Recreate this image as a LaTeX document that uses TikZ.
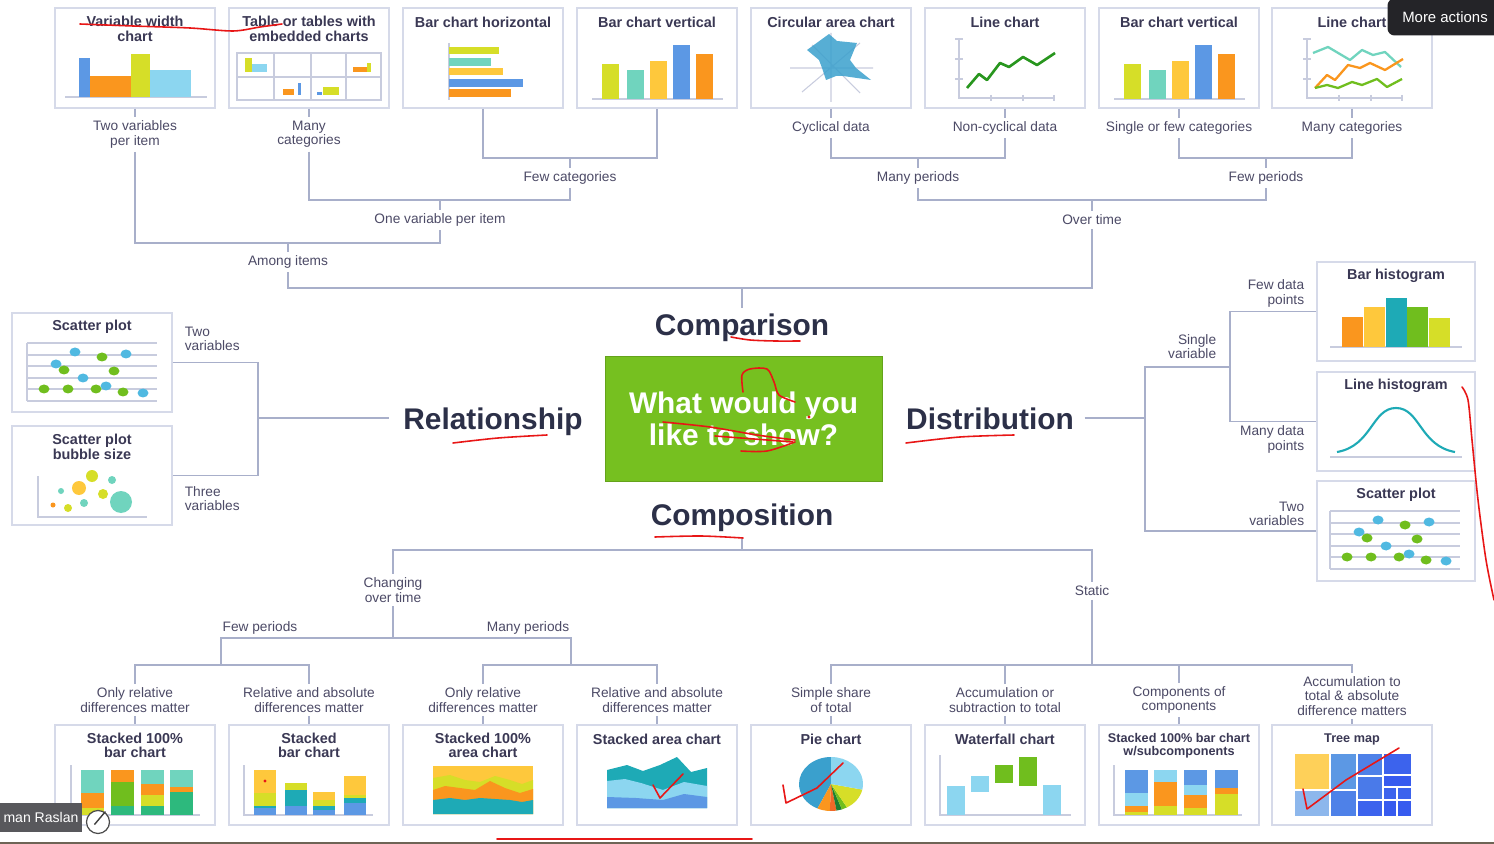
\documentclass[tikz,border=0pt]{standalone}
\usepackage{fontspec}
\setmainfont{Liberation Sans}
\usepackage{tikz}
\usepackage{xcolor}
\usetikzlibrary{positioning}
\definecolor{chlink}{RGB}{168,175,202}
\definecolor{chframe}{RGB}{214,218,233}
\definecolor{chaxis}{RGB}{200,204,222}
\definecolor{chtitle}{RGB}{58,56,84}
\definecolor{chlabel}{RGB}{76,74,102}
\definecolor{chtopic}{RGB}{44,48,72}
\definecolor{chcentre}{RGB}{118,192,32}
\definecolor{cblue}{RGB}{92,152,228}
\definecolor{corange}{RGB}{250,150,30}
\definecolor{cygreen}{RGB}{214,222,40}
\definecolor{cltblue}{RGB}{140,214,240}
\definecolor{cteal}{RGB}{112,212,190}
\definecolor{cyellow}{RGB}{254,200,60}
\definecolor{cgreen}{RGB}{112,190,30}
\definecolor{cdteal}{RGB}{30,170,182}
\definecolor{cmint}{RGB}{45,185,125}
\definecolor{cline}{RGB}{40,150,30}
\definecolor{cdot}{RGB}{80,185,225}
\definecolor{cpie}{RGB}{58,160,205}
\definecolor{cred}{RGB}{240,105,40}
\definecolor{cdgreen}{RGB}{30,125,50}
\definecolor{inkred}{RGB}{232,22,22}
\definecolor{uidark}{RGB}{36,36,40}

\begin{document}
\begin{tikzpicture}[
    x=0.02cm, y=-0.02cm,
    chartbox/.style={draw=chframe, fill=white, line width=0.8pt, minimum width=3.2cm, minimum height=2cm, inner sep=0pt},
    boxtitle/.style={font=\bfseries\fontsize{8.2}{8.2}\selectfont, text=chtitle, align=center, inner sep=0pt},
    branch/.style={font=\fontsize{7.8}{8.1}\selectfont, text=chlabel, align=center, inner sep=2pt},
    topic/.style={font=\bfseries\fontsize{17}{18}\selectfont, text=chtopic, inner sep=3pt, text height=12.5pt, text depth=3.5pt},
    tree/.style={draw=chlink, line width=1.1pt},
    chartaxis/.style={draw=chaxis, line width=0.6pt},
    ink/.style={draw=inkred, line width=0.9pt, line cap=round, line join=round},
]
  \useasboundingbox (0,0) rectangle (1494,844);
  \fill[white] (0,0) rectangle (1494,844);

  % chart boxes
  \node[chartbox] (t1) at (135,58) {};
  \node[chartbox] (t2) at (309,58) {};
  \node[chartbox] (t3) at (483,58) {};
  \node[chartbox] (t4) at (657,58) {};
  \node[chartbox] (t5) at (831,58) {};
  \node[chartbox] (t6) at (1005,58) {};
  \node[chartbox] (t7) at (1179,58) {};
  \node[chartbox] (t8) at (1352,58) {};
  \node[chartbox] (b1) at (135,775) {};
  \node[chartbox] (b2) at (309,775) {};
  \node[chartbox] (b3) at (483,775) {};
  \node[chartbox] (b4) at (657,775) {};
  \node[chartbox] (b5) at (831,775) {};
  \node[chartbox] (b6) at (1005,775) {};
  \node[chartbox] (b7) at (1179,775) {};
  \node[chartbox] (b8) at (1352,775) {};
  \node[chartbox, minimum height=1.98cm] (s1) at (92,362.5) {};
  \node[chartbox, minimum height=1.98cm] (s2) at (92,475.5) {};
  \node[chartbox, minimum width=3.16cm, minimum height=1.98cm] (h1) at (1396,311.5) {};
  \node[chartbox, minimum width=3.16cm, minimum height=1.98cm] (h2) at (1396,421.5) {};
  \node[chartbox, minimum width=3.16cm, minimum height=2cm] (h3) at (1396,531) {};

  % box titles
  \node[boxtitle] (tt1) at (135,29) {Variable width\\chart};
  \node[boxtitle] (tt2) at (309,29) {Table or tables with\\embedded charts};
  \node[boxtitle] (tt3) at (483,22) {Bar chart horizontal};
  \node[boxtitle] (tt4) at (657,22) {Bar chart vertical};
  \node[boxtitle] (tt5) at (831,22) {Circular area chart};
  \node[boxtitle] (tt6) at (1005,22) {Line chart};
  \node[boxtitle] (tt7) at (1179,22) {Bar chart vertical};
  \node[boxtitle] (tt8) at (1352,22) {Line chart};
  \node[boxtitle] (bt1) at (135,745.5) {Stacked 100\%\\bar chart};
  \node[boxtitle] (bt2) at (309,745.5) {Stacked\\bar chart};
  \node[boxtitle] (bt3) at (483,745.5) {Stacked 100\%\\area chart};
  \node[boxtitle] (bt4) at (657,739) {Stacked area chart};
  \node[boxtitle] (bt5) at (831,739) {Pie chart};
  \node[boxtitle] (bt6) at (1005,739) {Waterfall chart};
  \node[boxtitle, font=\bfseries\fontsize{7.2}{7.6}\selectfont] (bt7) at (1179,745.5) {Stacked 100\% bar chart\\w/subcomponents};
  \node[boxtitle, font=\bfseries\fontsize{7.2}{7.6}\selectfont] (bt8) at (1352,739) {Tree map};
  \node[boxtitle] (st1) at (92,327) {Scatter plot};
  \node[boxtitle] (st2) at (92,447) {Scatter plot\\bubble size};
  \node[boxtitle] (ht1) at (1396,276) {Bar histogram};
  \node[boxtitle] (ht2) at (1396,386) {Line histogram};
  \node[boxtitle] (ht3) at (1396,495) {Scatter plot};

  % variable width
  \draw[chartaxis] (65,97) -- (207,97);
  \fill[cblue] (79,58) rectangle (90,97);
  \fill[corange] (90,76) rectangle (131,97);
  \fill[cygreen] (131,54) rectangle (150,97);
  \fill[cltblue] (150,70) rectangle (191,97);
  % table
  \draw[chartaxis] (237,53) rectangle (381,100);
  \draw[chartaxis] (274,53) -- (274,100) (311,53) -- (311,100) (346,53) -- (346,100) (237,77) -- (381,77);
  \foreach \xa/\ya/\xb/\yb/\c in {245/58/252/72/cygreen, 252/64/267/72/cltblue, 353/67/367/72/corange, 367/63/371/72/cygreen,
      283/89/294/95/corange, 298/83/301/95/cblue, 317/92/322/95/cblue, 323/87/339/95/cygreen}
    \fill[\c] (\xa,\ya) rectangle (\xb,\yb);
  % horizontal bars
  \draw[chartaxis] (449,43) -- (449,100);
  \foreach \ya/\yb/\xb/\c in {47/54/499/cygreen, 58/66/491/cteal, 68/75/503/cyellow, 79/87/523/cblue, 89/97/511/corange}
    \fill[\c] (449,\ya) rectangle (\xb,\yb);
  % vertical bars, twice
  \foreach \dx in {0,522} {
    \draw[chartaxis] (592+\dx,99) -- (723+\dx,99);
    \foreach \xa/\ya/\c in {602/64/cygreen, 627/70/cteal, 650/61/cyellow, 673/45/cblue, 696/54/corange}
      \fill[\c] (\xa+\dx,\ya) rectangle (\xa+17+\dx,99);
  }
  % circular area
  \draw[chartaxis] (790,68) -- (873,68) (831,33) -- (831,102) (802,92) -- (860,43) (812,45) -- (860,93);
  \fill[cpie, opacity=0.85] (807,50) -- (829,34) -- (837,41) -- (857,43) -- (850,60) -- (856,68) -- (871,80)
    -- (843,76) -- (836,76) -- (826,80) -- (822,68) -- (819,60) -- cycle;
  % line chart
  \draw[chartaxis] (959,39) -- (959,98) -- (1055,98);
  \foreach \gy in {39,59,79} \draw[chartaxis] (955,\gy) -- (963,\gy);
  \foreach \gx in {991,1023,1054} \draw[chartaxis] (\gx,95) -- (\gx,101);
  \draw[cline, line width=1.5pt, line join=round] (967,88) -- (979,74) -- (987,80) -- (1000,63) -- (1009,67) -- (1023,57) -- (1037,65) -- (1055,53);
  % line chart, many
  \draw[chartaxis] (1307,39) -- (1307,98) -- (1403,98);
  \foreach \gy in {39,59,79} \draw[chartaxis] (1303,\gy) -- (1311,\gy);
  \foreach \gx in {1339,1371,1402} \draw[chartaxis] (\gx,95) -- (\gx,101);
  \draw[cteal, line width=1.3pt, line join=round] (1313,53) -- (1328,47) -- (1350,60) -- (1362,50) -- (1373,55) -- (1385,52) -- (1401,67);
  \draw[corange, line width=1.3pt, line join=round] (1315,88) -- (1327,75) -- (1335,80) -- (1348,65) -- (1360,68) -- (1370,63) -- (1385,70) -- (1403,59);
  \draw[cgreen, line width=1.3pt, line join=round] (1315,88) -- (1327,85) -- (1338,88) -- (1352,82) -- (1362,85) -- (1377,79) -- (1387,87) -- (1402,79);

  % scatter plots
  \foreach \dx/\dy in {0/0, 1303/168} {
    \foreach \gy in {343,355,366,378,389,401} \draw[chartaxis] (27+\dx,\gy+\dy) -- (157+\dx,\gy+\dy);
    \draw[chartaxis] (27+\dx,343+\dy) -- (27+\dx,401+\dy);
    \foreach \px/\py in {75/352, 126/354, 56/364, 83/378, 106/386, 143/393}
      \fill[cdot] (\px+\dx,\py+\dy) ellipse [x radius=5.5, y radius=4.5];
    \foreach \px/\py in {102/357, 64/370, 114/371, 44/389, 68/389, 96/389, 123/392}
      \fill[cgreen] (\px+\dx,\py+\dy) ellipse [x radius=5.5, y radius=4.5];
  }
  % bubbles
  \draw[chartaxis] (38,476) -- (38,517) -- (147,517);
  \foreach \px/\py/\r/\c in {92/476/6/cygreen, 112/480/4/cteal, 61/491/3/cteal, 79/488/7/cyellow, 103/494/5/cygreen,
      121/502/11/cteal, 53/505/2.5/corange, 68/508/4/cygreen, 84/503/4/cteal}
    \fill[\c] (\px,\py) circle [radius=\r];
  % bar histogram
  \draw[chartaxis] (1330,347) -- (1462,347);
  \foreach \xa/\ya/\c in {1342/317/corange, 1364/307/cyellow, 1386/298/cdteal, 1407/307/cgreen, 1429/318/cygreen}
    \fill[\c] (\xa,\ya) rectangle (\xa+21,347);
  % line histogram
  \draw[chartaxis] (1330,457) -- (1462,457);
  \draw[cdteal, line width=1.2pt] (1337,452) .. controls (1372,446) and (1372,408) .. (1396,408)
    .. controls (1420,408) and (1420,446) .. (1455,452);

  % stacked 100% bar chart
  \draw[chartaxis] (71,765) -- (71,815) -- (200,815);
  \foreach \xa/\ya/\yb/\c in {81/770/793/cteal, 81/793/808/corange, 81/808/815/cygreen,
      111/770/782/corange, 111/782/806/cgreen, 111/806/815/cmint,
      141/770/784/cteal, 141/784/795/corange, 141/795/806/cygreen, 141/806/815/cmint,
      170/770/787/cteal, 170/787/792/corange, 170/792/815/cmint}
    \fill[\c] (\xa,\ya) rectangle (\xa+23,\yb);
  % stacked bar chart
  \draw[chartaxis] (244,765) -- (244,815) -- (373,815);
  \foreach \xa/\ya/\yb/\c in {254/770/793/cyellow, 254/793/806/cygreen, 254/806/808/cdteal, 254/808/815/cblue,
      285/783/790/cygreen, 285/790/806/cdteal, 285/806/815/cblue,
      313/792/800/cyellow, 313/800/806/cygreen, 313/806/810/cdteal, 313/810/815/cblue,
      344/776/795/cyellow, 344/795/798/cygreen, 344/798/803/cdteal, 344/803/815/cblue}
    \fill[\c] (\xa,\ya) rectangle (\xa+22,\yb);
  % stacked 100% area chart
  \fill[cyellow] (433,766) rectangle (533,814);
  \fill[cygreen] (433,778) -- (450,775) -- (465,780) -- (480,782) -- (495,776) -- (510,780) -- (522,784) -- (533,780) -- (533,814) -- (433,814) -- cycle;
  \fill[corange] (433,790) -- (445,786) -- (460,788) -- (475,790) -- (490,781) -- (505,788) -- (520,793) -- (533,789) -- (533,814) -- (433,814) -- cycle;
  \fill[cdteal] (433,800) -- (450,798) -- (465,800) -- (480,798) -- (495,799) -- (510,800) -- (522,802) -- (533,800) -- (533,814) -- (433,814) -- cycle;
  % stacked area chart
  \fill[cdteal] (607,770) -- (627,765) -- (643,771) -- (660,765) -- (677,757) -- (691,772) -- (707,768) -- (707,808) -- (607,808) -- cycle;
  \fill[cltblue] (607,781) -- (625,779) -- (641,783) -- (663,790) -- (684,782) -- (707,786) -- (707,808) -- (607,808) -- cycle;
  \fill[cblue] (607,797) -- (636,798) -- (663,800) -- (684,794) -- (707,797) -- (707,808) -- (607,808) -- cycle;
  % pie
  \coordinate (pie) at (831,784);
  \foreach \a/\b/\c in {90/245/cpie, 245/268/corange, 268/280/cred, 280/290/cdgreen, 290/300/cgreen, 300/348/cygreen, 348/450/cltblue}
    \fill[\c] (pie) -- ++({32*cos(\a)},{-27*sin(\a)}) arc[start angle=-\a, end angle=-\b, x radius=32, y radius=27] -- cycle;
  % waterfall
  \draw[chartaxis] (940,755) -- (940,815) -- (1071,815);
  \foreach \xa/\ya/\yb/\c in {947/786/815/cltblue, 971/776/792/cltblue, 995/765/783/cgreen, 1019/757/786/cgreen, 1043/785/815/cltblue}
    \fill[\c] (\xa,\ya) rectangle (\xa+18,\yb);
  % stacked 100% with subcomponents
  \draw[chartaxis] (1114,765) -- (1114,815) -- (1242,815);
  \foreach \xa/\ya/\yb/\c in {1125/770/793/cblue, 1125/793/806/cltblue, 1125/806/812/corange, 1125/812/815/cygreen,
      1154/770/782/cltblue, 1154/782/806/corange, 1154/806/815/cygreen,
      1184/770/785/cblue, 1184/785/795/cltblue, 1184/795/808/corange, 1184/808/815/cygreen,
      1215/770/788/cblue, 1215/788/794/corange, 1215/794/815/cygreen}
    \fill[\c] (\xa,\ya) rectangle (\xa+23,\yb);
  % tree map
  \foreach \xa/\ya/\xb/\yb/\c in {1294/753/1330/790/cyellow!85!white, 1294/790/1330/817/cblue!70!white,
      1330/753/1357/790/cblue, 1330/790/1357/817/cblue!85!blue,
      1357/753/1383/776/cblue!85!blue, 1357/776/1383/800/cblue!80!blue, 1357/800/1383/817/cblue!65!blue,
      1383/753/1412/775/cblue!65!blue, 1383/775/1412/787/cblue!60!blue, 1383/787/1397/800/cblue!65!blue,
      1397/787/1412/800/cblue!65!blue, 1383/800/1397/817/cblue!60!blue, 1397/800/1412/817/cblue!60!blue}
    \filldraw[fill=\c, draw=white, line width=0.6pt] (\xa,\ya) rectangle (\xb,\yb);

  % centre and topics
  \node[fill=chcentre, draw=chcentre!85!black, line width=0.4pt, minimum width=5.54cm, minimum height=2.5cm,
        text=white, align=center, font=\bfseries\fontsize{17}{18.3}\selectfont] (question) at (743.5,418.5) {What would you\\like to show?};
  \node[topic] (comparison) at (742,328) {Comparison};
  \node[topic] (relationship) at (493,421.5) {Relationship};
  \node[topic] (distribution) at (990,421.5) {Distribution};
  \node[topic] (composition) at (742,518) {Composition};

  % branch labels, top
  \node[branch] (lp1) at (135,134.5) {Two variables\\per item};
  \node[branch] (lp2) at (309,134.5) {Many\\categories};
  \node[branch] (lp5) at (831,128) {Cyclical data};
  \node[branch] (lp6) at (1005,128) {Non-cyclical data};
  \node[branch] (lp7) at (1179,128) {Single or few categories};
  \node[branch] (lp8) at (1352,128) {Many categories};
  \node[branch] (fewcat) at (570,178) {Few categories};
  \node[branch] (manyper) at (918,178) {Many periods};
  \node[branch] (fewper) at (1266,178) {Few periods};
  \node[branch] (onevar) at (440,220) {One variable per item};
  \node[branch] (overtime) at (1092,220) {Over time};
  \node[branch] (among) at (288,262) {Among items};
  % branch labels, sides
  \node[branch, anchor=west, align=left] (twovar) at (181,338.5) {Two\\variables};
  \node[branch, anchor=west, align=left] (threevar) at (181,498.5) {Three\\variables};
  \node[branch, anchor=east, align=right] (single) at (1220,346.5) {Single\\variable};
  \node[branch, anchor=east, align=right] (fewdata) at (1308,293.5) {Few data\\points};
  \node[branch, anchor=east, align=right] (manydata) at (1308,439.5) {Many data\\points};
  \node[branch, anchor=east, align=right] (twovar2) at (1308,513.5) {Two\\variables};
  % branch labels, bottom
  \node[branch] (changing) at (393,590) {Changing\\over time};
  \node[branch] (static) at (1092,591) {Static};
  \node[branch] (fewp) at (260,628) {Few periods};
  \node[branch] (manyp) at (528,628) {Many periods};
  \node[branch] (r1) at (135,700) {Only relative\\differences matter};
  \node[branch] (r2) at (309,700) {Relative and absolute\\differences matter};
  \node[branch] (r3) at (483,700) {Only relative\\differences matter};
  \node[branch] (r4) at (657,700) {Relative and absolute\\differences matter};
  \node[branch] (r5) at (831,700) {Simple share\\of total};
  \node[branch] (r6) at (1005,700) {Accumulation or\\subtraction to total};
  \node[branch] (r7) at (1179,700) {Components of\\components};
  \node[branch] (r8) at (1352,696) {Accumulation to\\total \& absolute\\difference matters};

  % junctions
  \coordinate (jA) at (570,158);
  \coordinate (jB) at (918,158);
  \coordinate (jC) at (1266,158);
  \coordinate (jD) at (440,200);
  \coordinate (jE) at (1092,200);
  \coordinate (jF) at (288,243);
  \coordinate (jG) at (742,288);
  \coordinate (jrel) at (258,418);
  \coordinate (jdist) at (1145,418);
  \coordinate (jsing) at (1230,367);
  \coordinate (jcomp) at (742,550);
  \coordinate (jchg) at (393,638);
  \coordinate (jfew) at (221,665);
  \coordinate (jmany) at (571,665);
  \coordinate (jstat) at (1092,665);

  % comparison tree
  \foreach \i in {1,2,5,6,7,8} \draw[tree] (t\i.south) -- (lp\i.north);
  \draw[tree] (t3.south) |- (jA) -| (t4.south);
  \draw[tree] (jA) -- (fewcat.north);
  \draw[tree] (lp5.south) |- (jB) -| (lp6.south);
  \draw[tree] (jB) -- (manyper.north);
  \draw[tree] (lp7.south) |- (jC) -| (lp8.south);
  \draw[tree] (jC) -- (fewper.north);
  \draw[tree] (lp2.south) |- (jD) -| (fewcat.south);
  \draw[tree] (jD) -- (onevar.north);
  \draw[tree] (manyper.south) |- (jE) -| (fewper.south);
  \draw[tree] (jE) -- (overtime.north);
  \draw[tree] (lp1.south) |- (jF) -| (onevar.south);
  \draw[tree] (jF) -- (among.north);
  \draw[tree] (among.south) |- (jG) -| (overtime.south);
  \draw[tree] (jG) -- (comparison.north);
  % relationship tree
  \draw[tree] (s1.east) -| (jrel) |- (s2.east);
  \draw[tree, shorten >=5pt] (jrel) -- (jrel -| relationship.west);
  % distribution tree
  \draw[tree, shorten <=3pt] (jdist -| distribution.east) -- (jdist);
  \draw[tree] (jsing) -| (jdist) |- (h3.west);
  \draw[tree] (h1.west) -| (jsing) |- (h2.west);
  % composition tree
  \draw[tree] (composition.south) -- (jcomp);
  \draw[tree] (changing.north) |- (jcomp) -| (static.north);
  \draw[tree] (changing.south) -- (jchg);
  \draw[tree] (jfew) |- (jchg) -| (jmany);
  \draw[tree] (r1.north) |- (jfew) -| (r2.north);
  \draw[tree] (r3.north) |- (jmany) -| (r4.north);
  \draw[tree] (static.south) -- (jstat);
  \draw[tree] (r5.north) |- (jstat) -| (r8.north);
  \draw[tree] (r6.north) -- (r6.north |- jstat);
  \draw[tree] (r7.north) -- (r7.north |- jstat);
  \foreach \i in {1,...,8} \draw[tree] (r\i.south) -- (b\i.north);

  % red pen marks
  \draw[ink] plot[smooth] coordinates {(80,24) (133,26) (190,28) (233,31) (260,27) (282,24)};
  \draw[ink] plot[smooth] coordinates {(731,337) (750,340) (775,341) (800,341)};
  \draw[ink] plot[smooth] coordinates {(453,443) (498,438) (547,435)};
  \draw[ink] plot[smooth] coordinates {(906,443) (960,437) (1014,435)};
  \draw[ink] plot[smooth] coordinates {(655,537) (701,536) (743,538)};
  \draw[ink] plot[smooth] coordinates {(743,392) (742,375) (750,369) (767,369) (774,382) (779,395) (795,402)};
  \fill[inkred] (809,417) circle [radius=1.6];
  \draw[ink] plot[smooth] coordinates {(663,422) (710,427) (757,435) (795,440)};
  \draw[ink] (715,436) -- (793,442);
  \draw[ink] plot[smooth] coordinates {(741,451) (767,451) (795,442)};
  \draw[ink] plot[smooth] coordinates {(1462,387) (1468,400) (1472,440) (1478,500) (1486,560) (1494,600)};
  \draw[ink] (497,839) -- (752,839);
  \fill[inkred] (265,781) circle [radius=1.6];
  \draw[ink] (653,785) -- (660,798) -- (683,774);
  \draw[ink] (783,785) -- (786,803) -- (817,788) -- (843,763);
  \draw[ink] (1303,789) -- (1307,809) -- (1346,780) -- (1399,748);

  % screen overlays
  \draw[draw={rgb,255:red,110;green,100;blue,85}, line width=1.2pt] (0,843) -- (1494,843);
  \node[fill=uidark, rounded corners=4pt, minimum width=2.3cm, minimum height=0.74cm, text=white,
        font=\fontsize{8.5}{10}\selectfont] (moreact) at (1445,17) {More actions};
  \node[fill={rgb,255:red,88;green,88;blue,92}, minimum width=1.64cm, minimum height=0.58cm, text=white,
        font=\fontsize{8}{10}\selectfont, inner sep=0pt] (user) at (41,817.5) {man Raslan};
  \node[circle, draw=black!70, fill=white, line width=0.7pt, minimum size=0.46cm] (pen) at (98,822) {};
  \draw[black!75, line width=0.8pt] (pen.south west) ++(5,-6) -- ++(11,-13);
\end{tikzpicture}
\end{document}
